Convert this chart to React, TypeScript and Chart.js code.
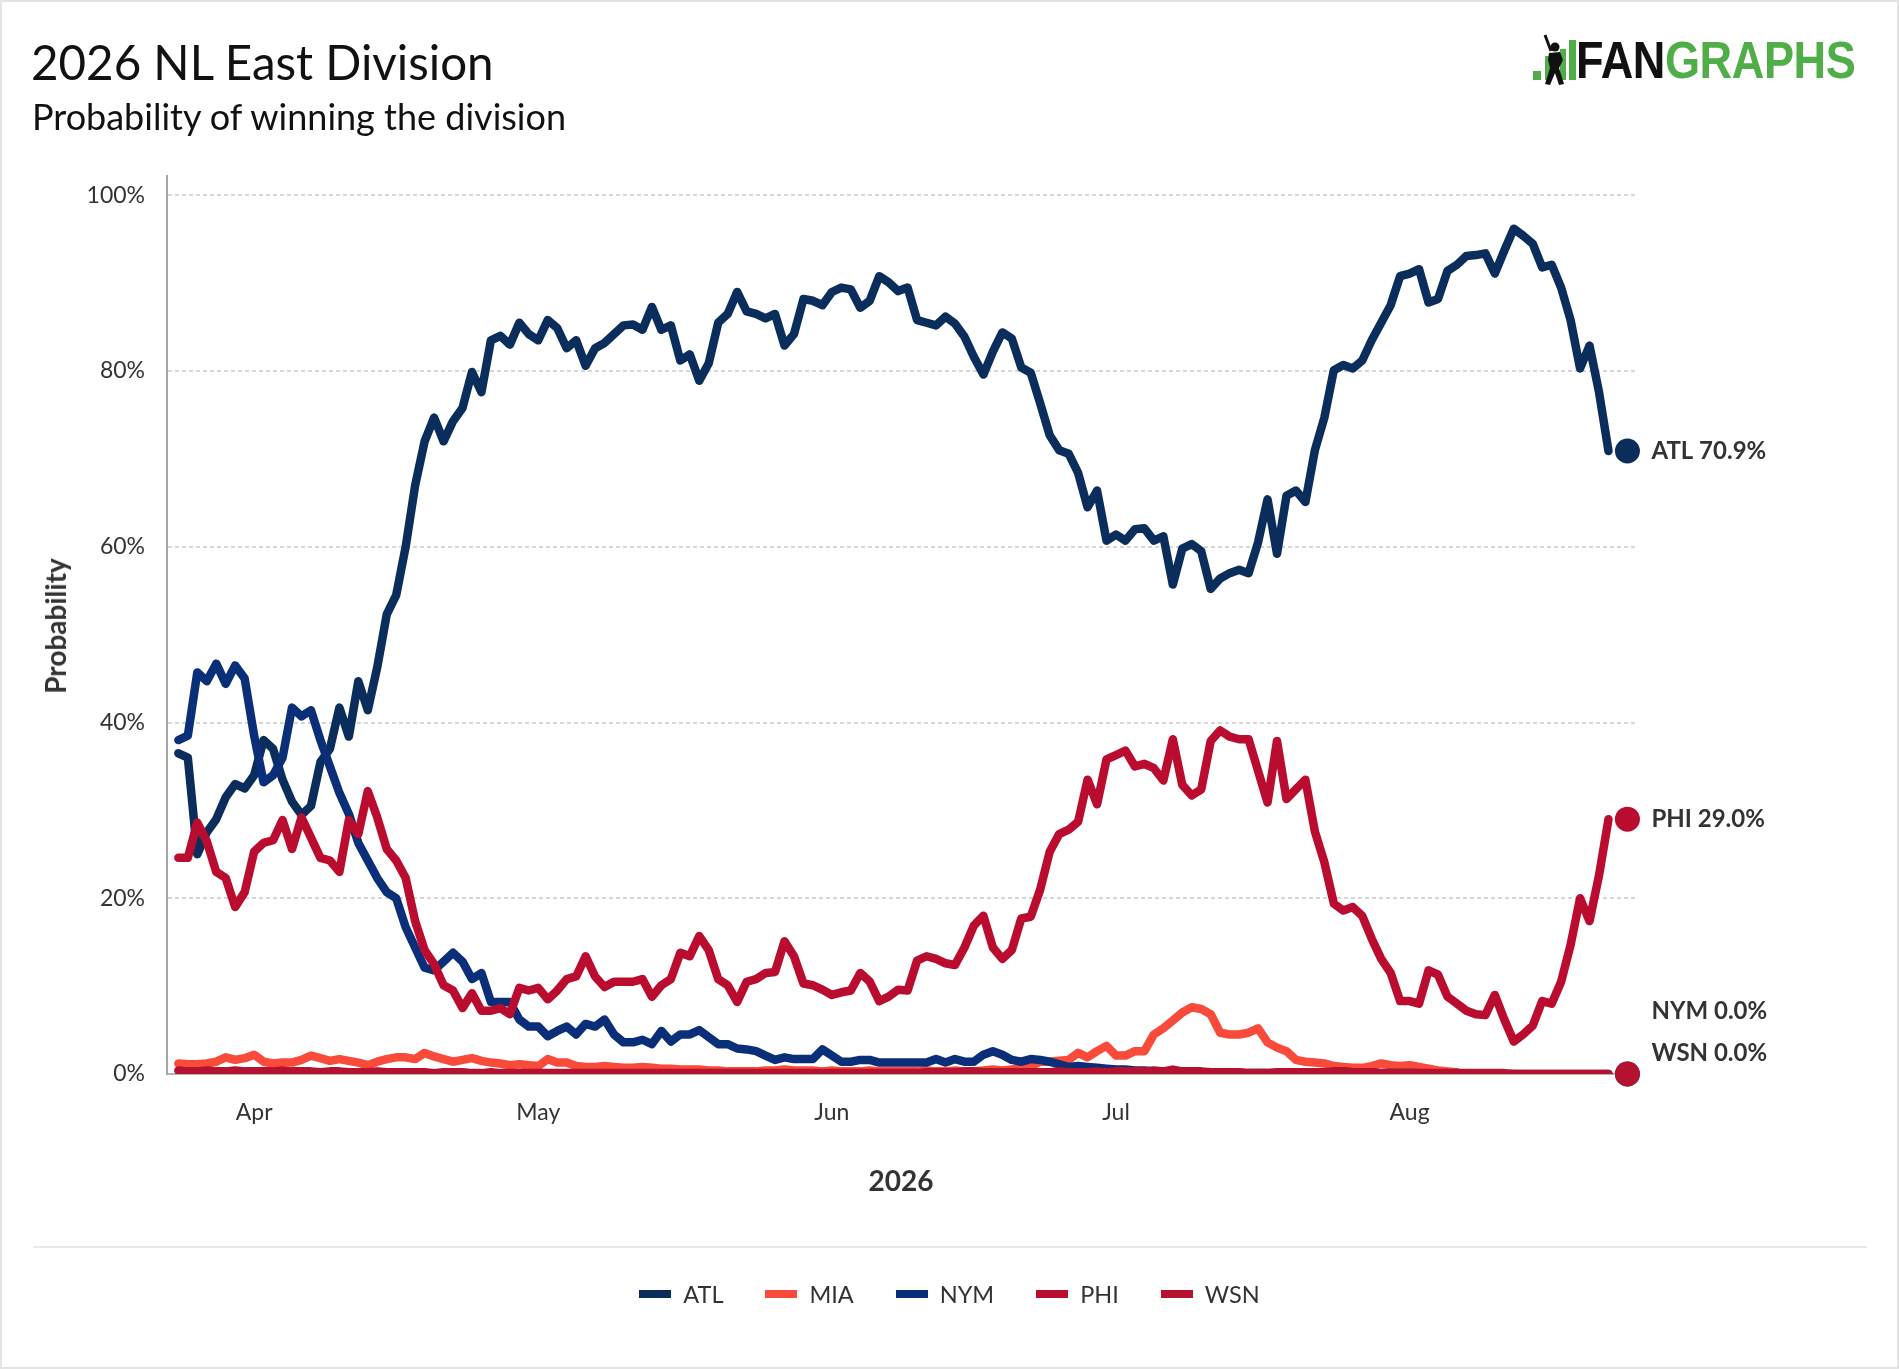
import React, { useEffect, useRef } from "react";
import { Chart, registerables } from "chart.js";

Chart.register(...registerables);

// ---- data ----
// day index is relative to Apr 1, 2026; first point = Mar 24
const FIRST_DAY = -8;
const teams = ["ATL", "MIA", "NYM", "PHI", "WSN"];
const teamColors = ["#0B2D5B", "#FA4A3A", "#0A2E78", "#BA0C2F", "#B5122F"];
const labeledTeams = ["ATL", "PHI", "NYM", "WSN"];

const atl = [
  36.5, 36, 25, 27.5, 29, 31.5, 33, 32.5, 34, 38, 37, 33.5, 31, 29.5, 30.5, 35.5, 37, 41.7, 38.4, 44.7,
  41.4, 46.3, 52.3, 54.5, 60, 67, 72, 74.7, 72, 74.3, 75.8, 79.9, 77.6, 83.5, 84, 83, 85.5,
  84.2, 83.5, 85.8, 84.9, 82.6, 83.5, 80.6, 82.6, 83.2, 84.2, 85.2, 85.3, 84.7, 87.3, 84.7, 85.2, 81.2,
  81.9, 78.9, 80.9, 85.5, 86.5, 89, 86.8, 86.5, 86, 86.5, 82.9, 84.2, 88.2,
  88, 87.5, 89, 89.5, 89.3, 87.2, 88, 90.8, 90.1, 89.1, 89.5, 85.8, 85.5, 85.2, 86.2, 85.4, 83.9, 81.6,
  79.6, 82.2, 84.4, 83.7, 80.4, 79.8, 76.3, 72.7, 71, 70.6, 68.4, 64.5,
  66.4, 60.7, 61.4, 60.7, 62, 62.1, 60.7, 61.2, 55.7, 59.8, 60.3, 59.5, 55.2, 56.4, 57, 57.4, 57, 60.5,
  65.4, 59.2, 65.8, 66.4, 65.1, 71, 74.7,
  80.1, 80.7, 80.3, 81.2, 83.5, 85.5, 87.5, 90.8, 91.1, 91.6, 87.8, 88.2, 91.4, 92.1, 93.1, 93.2, 93.4,
  91.1, 93.7, 96.2, 95.4, 94.5, 91.8, 92.1, 89.5, 85.8, 80.3, 82.9, 77.6, 70.9,
];

const mia = [
  1.2, 1.1, 1.1, 1.2, 1.4, 1.9, 1.6, 1.8, 2.2, 1.4, 1.2, 1.3, 1.3, 1.6, 2.1, 1.8, 1.5, 1.7, 1.5, 1.3,
  1.0, 1.4, 1.7, 1.9, 1.9, 1.7, 2.4, 2.0, 1.7, 1.4, 1.6, 1.8, 1.5, 1.3, 1.2, 1.0, 1.1, 1.0, 0.9,
  1.7, 1.3, 1.3, 0.9, 0.8, 0.8, 0.9, 0.8, 0.7, 0.7, 0.8, 0.7, 0.6, 0.6, 0.5, 0.5, 0.5, 0.4, 0.4, 0.3,
  0.3, 0.3, 0.3, 0.4, 0.4, 0.5, 0.4, 0.4,
  0.4, 0.3, 0.4, 0.3, 0.3, 0.3, 0.4, 0.3, 0.3, 0.3, 0.3, 0.3, 0.4, 0.3, 0.3, 0.4, 0.3, 0.3, 0.4, 0.5,
  0.4, 0.5, 0.6, 0.9, 1.4, 1.4, 1.5, 1.6,
  2.4, 1.9, 2.6, 3.2, 2.1, 2.1, 2.6, 2.6, 4.5, 5.2, 6.1, 7, 7.6, 7.4, 6.8, 4.7, 4.5, 4.5, 4.7, 5.2,
  3.6, 3, 2.6, 1.6, 1.4, 1.3, 1.2, 0.9, 0.8, 0.7, 0.7,
  0.9, 1.2, 1.0, 0.9, 1.0, 0.8, 0.6, 0.4, 0.3, 0.2,
];

const nym = [
  38, 38.5, 45.7, 44.7, 46.7, 44.4, 46.5, 45, 38.5, 33.2, 34, 36, 41.7, 40.7, 41.4, 38, 35, 32, 29.6,
  26.3, 24.3, 22.3, 20.7, 20, 16.7, 14.4, 12.1, 11.8, 12.8, 13.8, 12.8, 10.8, 11.5, 8.2, 8.2, 8.2, 6.2,
  5.4, 5.4, 4.3, 4.9, 5.4, 4.5, 5.7, 5.4, 6.2, 4.5, 3.6, 3.6, 3.9, 3.4, 4.9, 3.7, 4.5, 4.5, 5, 4.2,
  3.4, 3.4, 2.9, 2.8, 2.6, 2.1, 1.6, 1.9, 1.7, 1.7,
  1.7, 2.8, 2.1, 1.4, 1.4, 1.6, 1.6, 1.3, 1.3, 1.3, 1.3, 1.3, 1.3, 1.7, 1.3, 1.7, 1.4, 1.4, 2.2, 2.6,
  2.2, 1.6, 1.4, 1.7, 1.6, 1.4, 1.1, 0.8, 0.9, 0.8,
  0.7, 0.6, 0.5, 0.5, 0.4, 0.4, 0.3, 0.3, 0.3, 0.2, 0.2, 0.2, 0.2, 0.2, 0.1, 0.1, 0.1, 0.1, 0.1, 0.1,
  0.1, 0.1, 0.1, 0.1, 0.1, 0.2, 0.3, 0.2, 0.1, 0.1, 0.1, 0.1, 0.1, 0.1, 0.1,
  0, 0, 0, 0, 0, 0, 0, 0, 0, 0, 0, 0, 0, 0, 0, 0, 0, 0, 0, 0,
];

const phi = [
  24.6, 24.6, 28.6, 26.5, 23, 22.3, 19, 20.7, 25.3, 26.3, 26.6, 28.9, 25.6, 29.2, 26.9, 24.6, 24.3, 23,
  28.9, 27.3, 32.2, 29.2, 25.6, 24.3, 22.3, 17.4, 14.1, 12.5, 10.1, 9.5, 7.5, 9.2, 7.2, 7.2, 7.5, 6.8, 9.8,
  9.5, 9.8, 8.5, 9.5, 10.8, 11.1, 13.4, 11.1, 9.9, 10.5, 10.5, 10.5, 10.8, 8.8, 10.1, 10.8, 13.8, 13.4,
  15.7, 14.1, 10.8, 10.1, 8.2, 10.5, 10.8, 11.5, 11.6, 15.1, 13.4,
  10.3, 10.1, 9.6, 9, 9.3, 9.5, 11.5, 10.5, 8.3, 8.8, 9.6, 9.5, 12.9, 13.4, 13.1, 12.6, 12.4, 14.4, 16.9,
  18, 14.4, 13.1, 14.1, 17.7, 17.9, 21, 25.3, 27.3, 27.8, 28.7, 33.5,
  30.7, 35.8, 36.3, 36.8, 35, 35.3, 34.8, 33.4, 38.1, 32.9, 31.7, 32.4, 37.9, 39.1, 38.4, 38.1, 38.1,
  34.5, 30.9, 37.9, 31.3, 32.4, 33.5, 27.6, 24.1, 19.4, 18.6, 19, 18,
  15.4, 13.1, 11.5, 8.3, 8.3, 8, 11.8, 11.3, 8.8, 8, 7.2, 6.8, 6.7, 9, 6.2, 3.7, 4.5, 5.5, 8.3, 8, 10.5,
  14.7, 20, 17.4, 22.6, 29,
];

const wsn = [
  0.4, 0.3, 0.3, 0.4, 0.3, 0.3, 0.4, 0.3, 0.3, 0.3,
  0.3, 0.4, 0.3, 0.3, 0.3, 0.2, 0.3, 0.3, 0.2, 0.2,
  0.2, 0.3, 0.2, 0.2, 0.2, 0.2, 0.2, 0.1, 0.2, 0.2,
  0.2, 0.1, 0.1, 0.2, 0.1, 0.1, 0.1, 0.1, 0.1, 0.1,
  0.1, 0.1, 0.1, 0.1, 0.1, 0.1, 0.1, 0.1, 0.1, 0.1,
  0.1, 0.1, 0.1, 0.1, 0.1, 0.1, 0.1, 0.1, 0.1, 0.1,
  0.1, 0.1, 0.1, 0.1, 0.1, 0.1, 0.1, 0.1, 0.1, 0.1,
  0.1, 0.1, 0.1, 0.1, 0.1, 0.1, 0.1, 0.1, 0.1, 0.2,
  0.2, 0.2, 0.2, 0.3, 0.3, 0.2, 0.2, 0.2, 0.2, 0.2,
  0.2, 0.2, 0.2, 0.3, 0.2, 0.2, 0.2, 0.3, 0.2, 0.3,
  0.3, 0.3, 0.3, 0.4, 0.3, 0.5, 0.3, 0.3, 0.3, 0.2,
  0.2, 0.2, 0.2, 0.1, 0.1, 0.1, 0.2, 0.2, 0.2, 0.2,
  0.2, 0.2, 0.3, 0.3, 0.2, 0.2, 0.2, 0.1, 0.1, 0.1,
  0.1, 0.1, 0.1, 0.1, 0.1, 0.1, 0.1, 0.1, 0.1, 0.1,
  0.1, 0, 0, 0, 0, 0, 0, 0, 0, 0,
  0, 0,
];

const seriesValues = [atl, mia, nym, phi, wsn];

const monthLabels = ["Apr", "May", "Jun", "Jul", "Aug"];
const monthDays = [0, 30, 61, 91, 122];
const yTickValues = [0, 20, 40, 60, 80, 100];

const FONT = "Lato, 'Noto Sans', sans-serif";

export default function App() {
  const canvasRef = useRef<HTMLCanvasElement | null>(null);

  useEffect(() => {
    const canvas = canvasRef.current;
    if (!canvas) return;

    const lineSets = teams.map((t, i) => ({
      label: t,
      data: seriesValues[i].map((v, k) => ({ x: FIRST_DAY + k, y: v })),
      borderColor: teamColors[i],
      backgroundColor: teamColors[i],
      borderWidth: 8.5,
      pointRadius: 0,
      tension: 0,
      fill: false,
      borderJoinStyle: "round" as const,
      borderCapStyle: "round" as const,
      order: 10 - i,
    }));

    const endInfo = labeledTeams.map((t) => {
      const i = teams.indexOf(t);
      const vals = seriesValues[i];
      const lastX = FIRST_DAY + atl.length - 1 + 2;
      return { team: t, color: teamColors[i], x: lastX, y: vals[vals.length - 1] };
    });

    const endSet = {
      label: "end",
      type: "scatter" as const,
      data: endInfo.map((e) => ({ x: e.x, y: e.y })),
      pointRadius: 12.5,
      pointHoverRadius: 12.5,
      pointBackgroundColor: endInfo.map((e) => e.color),
      pointBorderWidth: 0,
      showLine: false,
      clip: false as const,
      order: 0,
    };
    const endIndex = lineSets.length;

    const endLabels = {
      id: "endLabels",
      afterDatasetsDraw(chart: any) {
        const meta = chart.getDatasetMeta(endIndex);
        const ctx = chart.ctx;
        const h = 42;
        const bottom = chart.chartArea.bottom;
        const items = meta.data.map((pt: any, i: number) => ({
          x: pt.x,
          y: pt.y,
          i,
          ly: pt.y,
          text: `${endInfo[i].team} ${endInfo[i].y.toFixed(1)}%`,
        }));
        items.sort((a: any, b: any) => a.y - b.y || a.i - b.i);
        for (let k = items.length - 1; k >= 0; k--) {
          const limit = k === items.length - 1 ? bottom - h / 2 : items[k + 1].ly - h;
          items[k].ly = Math.min(items[k].y, limit);
        }
        ctx.save();
        ctx.font = `bold 24px ${FONT}`;
        ctx.fillStyle = "#333333";
        ctx.textBaseline = "middle";
        ctx.textAlign = "left";
        items.forEach((it: any) => ctx.fillText(it.text, it.x + 24, it.ly));
        ctx.restore();
      },
    };

    const chart = new Chart(canvas, {
      type: "line",
      data: { datasets: [...lineSets, endSet] as any },
      options: {
        animation: false,
        responsive: false,
        maintainAspectRatio: false,
        layout: { padding: { top: 176, right: 264, bottom: 235, left: 0 } },
        plugins: {
          legend: { display: false },
          tooltip: { enabled: false },
          title: { display: false },
        },
        scales: {
          x: {
            type: "linear",
            min: -9.2,
            max: 145.8,
            grid: { display: false, drawTicks: false },
            border: { display: true, color: "#b3b3b3", width: 2 },
            afterBuildTicks: (s: any) => {
              s.ticks = monthDays.map((v) => ({ value: v }));
            },
            afterFit: (s: any) => {
              s.height = 60;
            },
            ticks: {
              autoSkip: false,
              maxRotation: 0,
              padding: 25,
              color: "#333333",
              font: { family: FONT, size: 23 },
              callback: (v: any) => {
                const idx = monthDays.indexOf(Number(v));
                return idx >= 0 ? monthLabels[idx] : "";
              },
            },
          },
          y: {
            min: 0,
            max: 102.2,
            afterBuildTicks: (s: any) => {
              s.ticks = yTickValues.map((v) => ({ value: v }));
            },
            afterFit: (s: any) => {
              s.width = 167;
            },
            grid: {
              drawTicks: false,
              lineWidth: 2,
              color: (c: any) => (c.tick && c.tick.value === 0 ? "rgba(0,0,0,0)" : "#d6d6d6"),
            },
            border: { display: true, color: "#a6a6a6", width: 2, dash: [4, 3] },
            ticks: {
              padding: 22,
              color: "#333333",
              font: { family: FONT, size: 23 },
              callback: (v: any) => `${v}%`,
            },
          },
        },
      },
      plugins: [endLabels],
    });

    let alive = true;
    if ((document as any).fonts && (document as any).fonts.ready) {
      (document as any).fonts.ready.then(() => {
        if (alive) chart.update();
      });
    }
    return () => {
      alive = false;
      chart.destroy();
    };
  }, []);

  const green = "#4FAE47";

  return (
    <div
      style={{
        position: "absolute",
        left: 0,
        top: 0,
        width: 1899,
        height: 1369,
        background: "#ffffff",
        overflow: "hidden",
        fontFamily: FONT,
      }}
    >
      <canvas
        ref={canvasRef}
        width={1899}
        height={1369}
        style={{ position: "absolute", left: 0, top: 0, width: 1899, height: 1369 }}
      />

      {/* title & subtitle */}
      <div
        style={{
          position: "absolute",
          left: 31,
          top: 38,
          fontSize: 47.5,
          lineHeight: "47.5px",
          color: "#111111",
          whiteSpace: "nowrap",
        }}
      >
        2026 NL East Division
      </div>
      <div
        style={{
          position: "absolute",
          left: 32,
          top: 98,
          fontSize: 36,
          lineHeight: "36px",
          color: "#111111",
          whiteSpace: "nowrap",
        }}
      >
        Probability of winning the division
      </div>

      {/* logo */}
      <svg
        width={50}
        height={54}
        viewBox="0 0 50 54"
        style={{ position: "absolute", left: 1530, top: 34 }}
      >
        <rect x={3} y={37} width={8} height={9} fill={green} />
        <rect x={15} y={22} width={6} height={24} fill={green} />
        <rect x={30} y={15} width={6} height={31} fill={green} />
        <rect x={39} y={6} width={7} height={40} fill={green} />
        <line x1={15} y1={1} x2={21} y2={17} stroke="#111" strokeWidth={3} />
        <circle cx={25} cy={13} r={4.5} fill="#111" />
        <polygon
          points="19,19 30,18 33,26 29,34 34,50 29,51 25,39 20,51 15,50 20,34 18,26"
          fill="#111"
        />
      </svg>
      <div
        style={{
          position: "absolute",
          left: 1576,
          top: 35,
          fontFamily: "'Liberation Sans', Arial, sans-serif",
          fontWeight: 700,
          fontSize: 51,
          lineHeight: "51px",
          whiteSpace: "nowrap",
          transform: "scaleX(0.885)",
          transformOrigin: "left top",
          letterSpacing: -0.5,
        }}
      >
        <span style={{ color: "#111111" }}>FAN</span>
        <span style={{ color: green }}>GRAPHS</span>
      </div>

      {/* axis titles */}
      <div
        style={{
          position: "absolute",
          left: 55,
          top: 626,
          transform: "translate(-50%, -50%) rotate(-90deg)",
          fontWeight: 700,
          fontSize: 28,
          lineHeight: "28px",
          color: "#333333",
          whiteSpace: "nowrap",
        }}
      >
        Probability
      </div>
      <div
        style={{
          position: "absolute",
          left: 901,
          top: 1166,
          transform: "translateX(-50%)",
          fontWeight: 700,
          fontSize: 28,
          lineHeight: "28px",
          color: "#333333",
          whiteSpace: "nowrap",
        }}
      >
        2026
      </div>

      {/* separator */}
      <div
        style={{
          position: "absolute",
          left: 33,
          top: 1246,
          width: 1834,
          height: 2,
          background: "#e8e8e8",
        }}
      />

      {/* legend */}
      <div
        style={{
          position: "absolute",
          left: 0,
          top: 1280,
          width: 1899,
          display: "flex",
          justifyContent: "center",
          alignItems: "center",
          height: 28,
        }}
      >
        {teams.map((t, i) => (
          <div
            key={t}
            style={{
              display: "flex",
              alignItems: "center",
              marginRight: i === teams.length - 1 ? 0 : 42,
            }}
          >
            <span
              style={{
                display: "inline-block",
                width: 32,
                height: 8,
                background: teamColors[i],
                marginRight: 12,
              }}
            />
            <span style={{ fontSize: 23.5, color: "#333333", lineHeight: "28px" }}>{t}</span>
          </div>
        ))}
      </div>

      {/* frame */}
      <div
        style={{
          position: "absolute",
          left: 0,
          top: 0,
          width: 1899,
          height: 1369,
          boxSizing: "border-box",
          border: "2px solid #e4e4e4",
          pointerEvents: "none",
        }}
      />
    </div>
  );
}
